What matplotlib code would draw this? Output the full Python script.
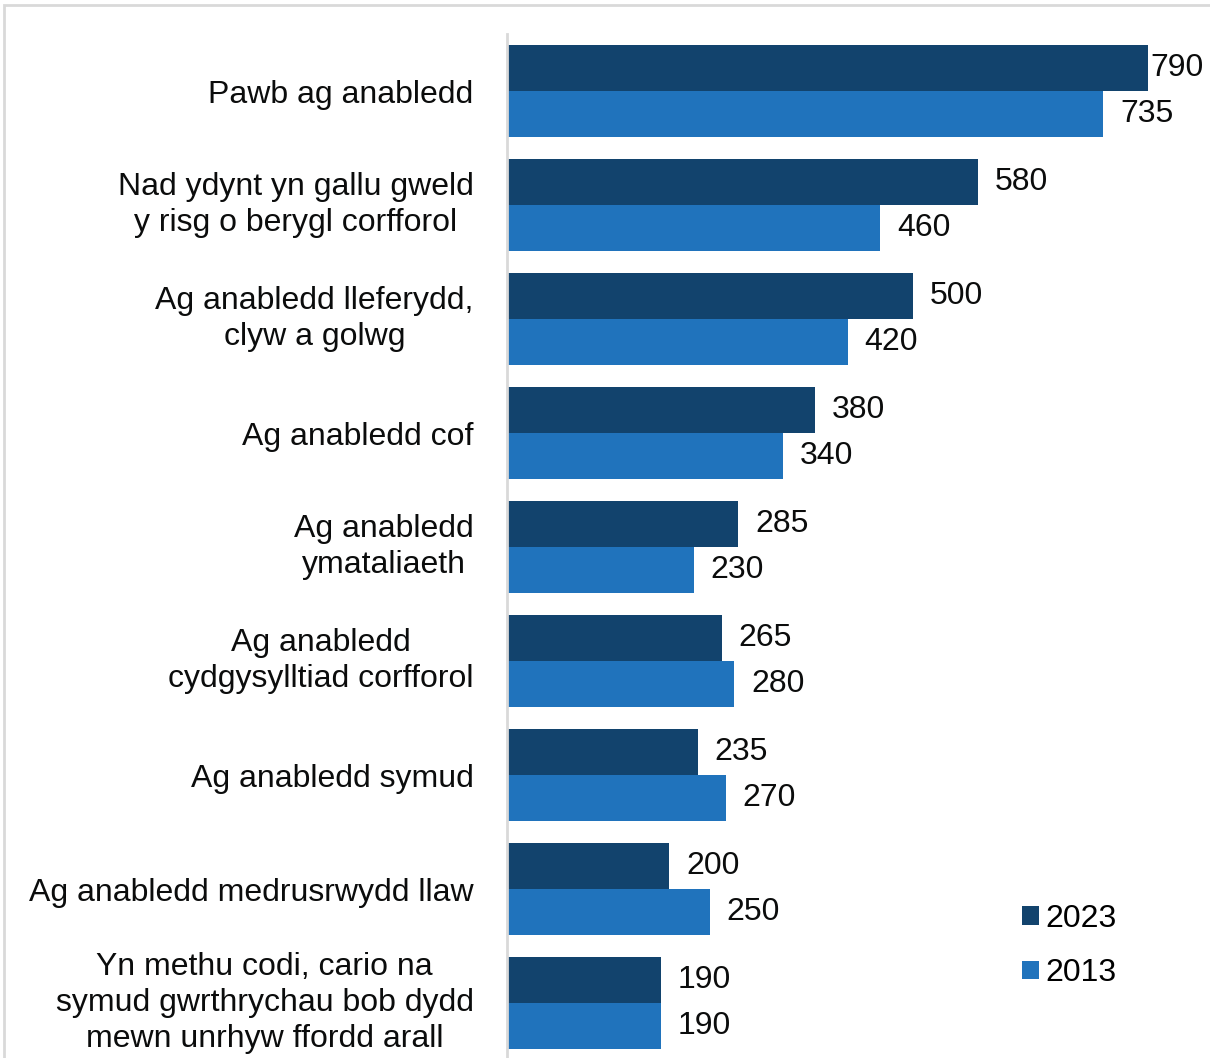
from matplotlib import pyplot as plt
from matplotlib.patches import Rectangle
import numpy as np

plt.rcParams['font.family'] = ['Liberation Sans', 'DejaVu Sans']

# Data (top to bottom)
categories = [
    "Pawb ag anabledd",
    "Nad ydynt yn gallu gweld\ny risg o berygl corfforol",
    "Ag anabledd lleferydd,\nclyw a golwg",
    "Ag anabledd cof",
    "Ag anabledd\nymataliaeth",
    "Ag anabledd\ncydgysylltiad corfforol",
    "Ag anabledd symud",
    "Ag anabledd medrusrwydd llaw",
    "Yn methu codi, cario na\nsymud gwrthrychau bob dydd\nmewn unrhyw ffordd arall",
]
vals_2023 = [790, 580, 500, 380, 285, 265, 235, 200, 190]
vals_2013 = [735, 460, 420, 340, 230, 280, 270, 250, 190]
series_names = ["2023", "2013"]

dark = "#12436D"
light = "#2073BC"
fs = 23

fig = plt.figure(figsize=(12.1, 10.58), dpi=100)
W, H = 1210, 1058

# light grey frame around the chart
fig.patches.append(Rectangle((4 / W, -0.05), 1.2, 1 - 4.5 / H + 0.05,
                             transform=fig.transFigure, fill=False,
                             edgecolor="#D9D9D9", linewidth=2))

ax = fig.add_axes([507 / W, 1 - 1060 / H, (1200 - 507) / W, (1060 - 34) / H])

y = np.arange(len(categories))
h = 0.4
b1 = ax.barh(y - h / 2, vals_2023, height=h, color=dark, label=series_names[0])
b2 = ax.barh(y + h / 2, vals_2013, height=h, color=light, label=series_names[1])

ax.set_ylim(len(categories) - 0.5, -0.5)
ax.set_xlim(0, 854)

for bars in (b1, b2):
    for rect in bars:
        v = rect.get_width()
        off = 12
        if v > 760:
            off = 2
        ax.annotate(str(int(v)), (v, rect.get_y() + rect.get_height() / 2),
                    xytext=(off, 0), textcoords="offset points",
                    ha="left", va="center", fontsize=fs, color="#0B0C0C",
                    annotation_clip=False)

ax.set_yticks(y)
ax.set_yticklabels(categories, fontsize=fs, color="#0B0C0C")
for t in ax.get_yticklabels():
    t.set_multialignment("center")
    t.set_linespacing(1.26)
    if "\n" in t.get_text():
        t.set_verticalalignment("center")
ax.tick_params(axis="y", length=0, pad=24)
ax.set_xticks([])

for s in ["top", "right", "bottom"]:
    ax.spines[s].set_visible(False)
ax.spines["left"].set_color("#D9D9D9")
ax.spines["left"].set_linewidth(2)

fig.legend(handles=[b1, b2], labels=series_names, loc="center left",
           bbox_to_anchor=(1006 / W, 1 - 946 / H), frameon=False,
           fontsize=fs, handlelength=0.52, handleheight=0.52,
           handletextpad=0.2, labelspacing=0.78, borderpad=0)

fig.savefig("out.png", dpi=100)
